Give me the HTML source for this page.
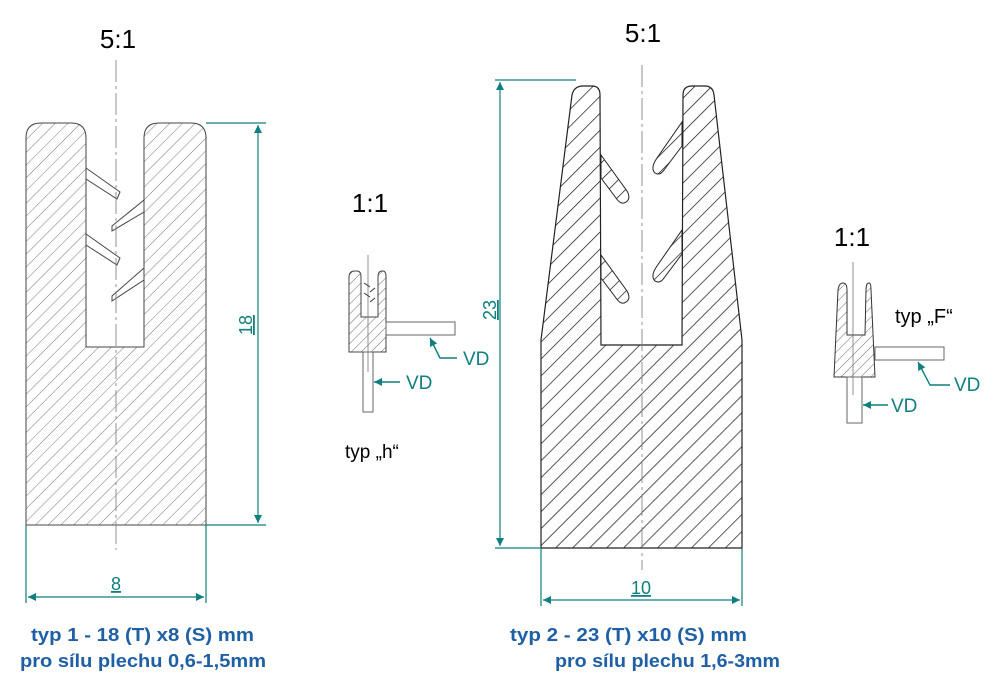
<!DOCTYPE html>
<html><head><meta charset="utf-8"><style>
html,body{margin:0;padding:0;background:#fff}
svg{display:block}
text{font-family:"Liberation Sans",sans-serif}
</style></head><body>
<svg width="1000" height="686" viewBox="0 0 1000 686" xmlns="http://www.w3.org/2000/svg">
<defs>
<pattern id="h1" width="9" height="9" patternUnits="userSpaceOnUse" patternTransform="rotate(45)">
<line x1="0" y1="0" x2="0" y2="9" stroke="#555" stroke-width="0.8"/></pattern>
<pattern id="h2" width="12" height="12" patternUnits="userSpaceOnUse" patternTransform="rotate(45)">
<line x1="0" y1="0" x2="0" y2="12" stroke="#111" stroke-width="1.4"/></pattern>
<pattern id="h3" width="7" height="7" patternUnits="userSpaceOnUse" patternTransform="rotate(45)">
<line x1="0" y1="0" x2="0" y2="7" stroke="#444" stroke-width="0.8"/></pattern>
<marker id="ar" viewBox="0 0 10 10" refX="10" refY="5" markerWidth="15" markerHeight="8" orient="auto-start-reverse" markerUnits="userSpaceOnUse">
<path d="M0,0 L10,5 L0,10 Z" fill="#0f7f7f"/></marker>
</defs>

<!-- LEFT PROFILE -->
<text x="118" y="48" font-size="26" text-anchor="middle">5:1</text>
<path d="M26,138 Q26,123 41,123 L71,123 Q86,123 86,138 L86,347 L144,347 L144,138 Q144,123 159,123 L191,123 Q206,123 206,138 L206,525 L26,525 Z" fill="url(#h1)" stroke="#444" stroke-width="1"/>
<polygon points="86,168 120,192 117,199 86,179" fill="#fff" stroke="#444"/>
<polygon points="86,234 120,258 117,265 86,245" fill="#fff" stroke="#444"/>
<polygon points="144,200 112,226 112,231 144,212" fill="#fff" stroke="#444"/>
<polygon points="144,268 112,296 112,301 144,280" fill="#fff" stroke="#444"/>
<line x1="116" y1="60" x2="116" y2="550" stroke="#777" stroke-width="0.8" stroke-dasharray="22,4,3,4"/>
<g stroke="#0f7f7f" stroke-width="1.2" fill="none">
<line x1="206" y1="123" x2="266" y2="123"/><line x1="206" y1="525" x2="266" y2="525"/>
<line x1="258" y1="125" x2="258" y2="523" marker-start="url(#ar)" marker-end="url(#ar)"/>
<line x1="26" y1="525" x2="26" y2="603"/><line x1="206" y1="525" x2="206" y2="603"/>
<line x1="28" y1="597" x2="204" y2="597" marker-start="url(#ar)" marker-end="url(#ar)"/>
</g>
<text transform="translate(252,325) rotate(-90)" font-size="18" fill="#0f7f7f" text-anchor="middle" text-decoration="underline">18</text>
<text x="116" y="590" font-size="18" fill="#0f7f7f" text-anchor="middle" text-decoration="underline">8</text>

<!-- SMALL h -->
<text x="370" y="212" font-size="26" text-anchor="middle">1:1</text>
<path d="M349,277 Q349,271 355,271 L357,271 Q361,271 361,277 L361,317 L378,317 L378,277 Q378,271 382,271 L383,271 Q386,271 386,277 L386,352 L349,352 Z" fill="url(#h3)" stroke="#444"/>
<rect x="386" y="322" width="69" height="13" fill="#fff" stroke="#666"/>
<rect x="363" y="352" width="10" height="60" fill="#fff" stroke="#666"/>
<line x1="368" y1="255" x2="368" y2="372" stroke="#777" stroke-width="0.8"/>
<path d="M364,283 l6,4 M364,293 l6,4 M375,288 l-5,4 M375,298 l-5,4" stroke="#333"/>
<g stroke="#0f7f7f" stroke-width="1.4" fill="none">
<line x1="400" y1="382" x2="374" y2="382" marker-end="url(#ar)"/>
<path d="M457,358 L440,358 L430,338" marker-end="url(#ar)"/>
</g>
<text x="406" y="389" font-size="19" fill="#0f7f7f">VD</text>
<text x="463" y="365" font-size="19" fill="#0f7f7f">VD</text>
<text x="345" y="458" font-size="19">typ „h“</text>

<!-- RIGHT PROFILE -->
<text x="643" y="42" font-size="26" text-anchor="middle">5:1</text>
<path d="M541,548 L541,340 L572,95 Q574,86 583,86 L592,86 Q600,86 600,95 L601,345 L682,345 L683,95 Q683,86 692,86 L705,86 Q713,86 714,95 L742,340 L742,548 Z" fill="url(#h2)" stroke="#222" stroke-width="1.2"/>
<path d="M601,155 L627,191 Q632,200 624,203 Q620,204 616,198 L601,178 Z" fill="url(#h2)" stroke="#222"/>
<path d="M601,255 L627,291 Q632,300 624,303 Q620,304 616,298 L601,278 Z" fill="url(#h2)" stroke="#222"/>
<path d="M682,122 L657,158 Q650,168 655,173 Q660,176 664,170 L682,146 Z" fill="url(#h2)" stroke="#222"/>
<path d="M682,230 L657,266 Q650,276 655,281 Q660,284 664,278 L682,254 Z" fill="url(#h2)" stroke="#222"/>
<line x1="642" y1="65" x2="642" y2="570" stroke="#777" stroke-width="0.8" stroke-dasharray="22,4,3,4"/>
<g stroke="#0f7f7f" stroke-width="1.2" fill="none">
<line x1="495" y1="80" x2="576" y2="80"/><line x1="495" y1="548" x2="541" y2="548"/>
<line x1="500" y1="82" x2="500" y2="546" marker-start="url(#ar)" marker-end="url(#ar)"/>
<line x1="541" y1="548" x2="541" y2="606"/><line x1="742" y1="548" x2="742" y2="606"/>
<line x1="543" y1="600" x2="740" y2="600" marker-start="url(#ar)" marker-end="url(#ar)"/>
</g>
<text transform="translate(496,310) rotate(-90)" font-size="18" fill="#0f7f7f" text-anchor="middle" text-decoration="underline">23</text>
<text x="641" y="594" font-size="18" fill="#0f7f7f" text-anchor="middle" text-decoration="underline">10</text>

<!-- SMALL F -->
<text x="852" y="246" font-size="26" text-anchor="middle">1:1</text>
<path d="M834,377 L838,290 Q839,283 843,283 Q847,283 847,290 L847,335 L865,335 L866,290 Q866,283 869,283 Q871,283 871,290 L875,377 Z" fill="url(#h3)" stroke="#333"/>
<rect x="875" y="347" width="69" height="13" fill="#fff" stroke="#666"/>
<rect x="847" y="377" width="15" height="46" fill="#fff" stroke="#666"/>
<line x1="853" y1="262" x2="853" y2="395" stroke="#777" stroke-width="0.8"/>
<g stroke="#0f7f7f" stroke-width="1.4" fill="none">
<line x1="888" y1="405" x2="863" y2="405" marker-end="url(#ar)"/>
<path d="M950,385 L930,385 L918,362" marker-end="url(#ar)"/>
</g>
<text x="891" y="412" font-size="19" fill="#0f7f7f">VD</text>
<text x="954" y="391" font-size="19" fill="#0f7f7f">VD</text>
<text x="895" y="323" font-size="20">typ „F“</text>

<g font-weight="bold" font-size="18" fill="#1e5fa5">
<text x="31" y="641" textLength="223" lengthAdjust="spacingAndGlyphs">typ  1 - 18 (T) x8 (S) mm</text>
<text x="20" y="667" textLength="246" lengthAdjust="spacingAndGlyphs">pro sílu plechu 0,6-1,5mm</text>
<text x="510" y="641" textLength="237" lengthAdjust="spacingAndGlyphs">typ  2 - 23 (T) x10 (S) mm</text>
<text x="555" y="667" textLength="225" lengthAdjust="spacingAndGlyphs">pro sílu plechu 1,6-3mm</text>
</g>
</svg>
</body></html>
